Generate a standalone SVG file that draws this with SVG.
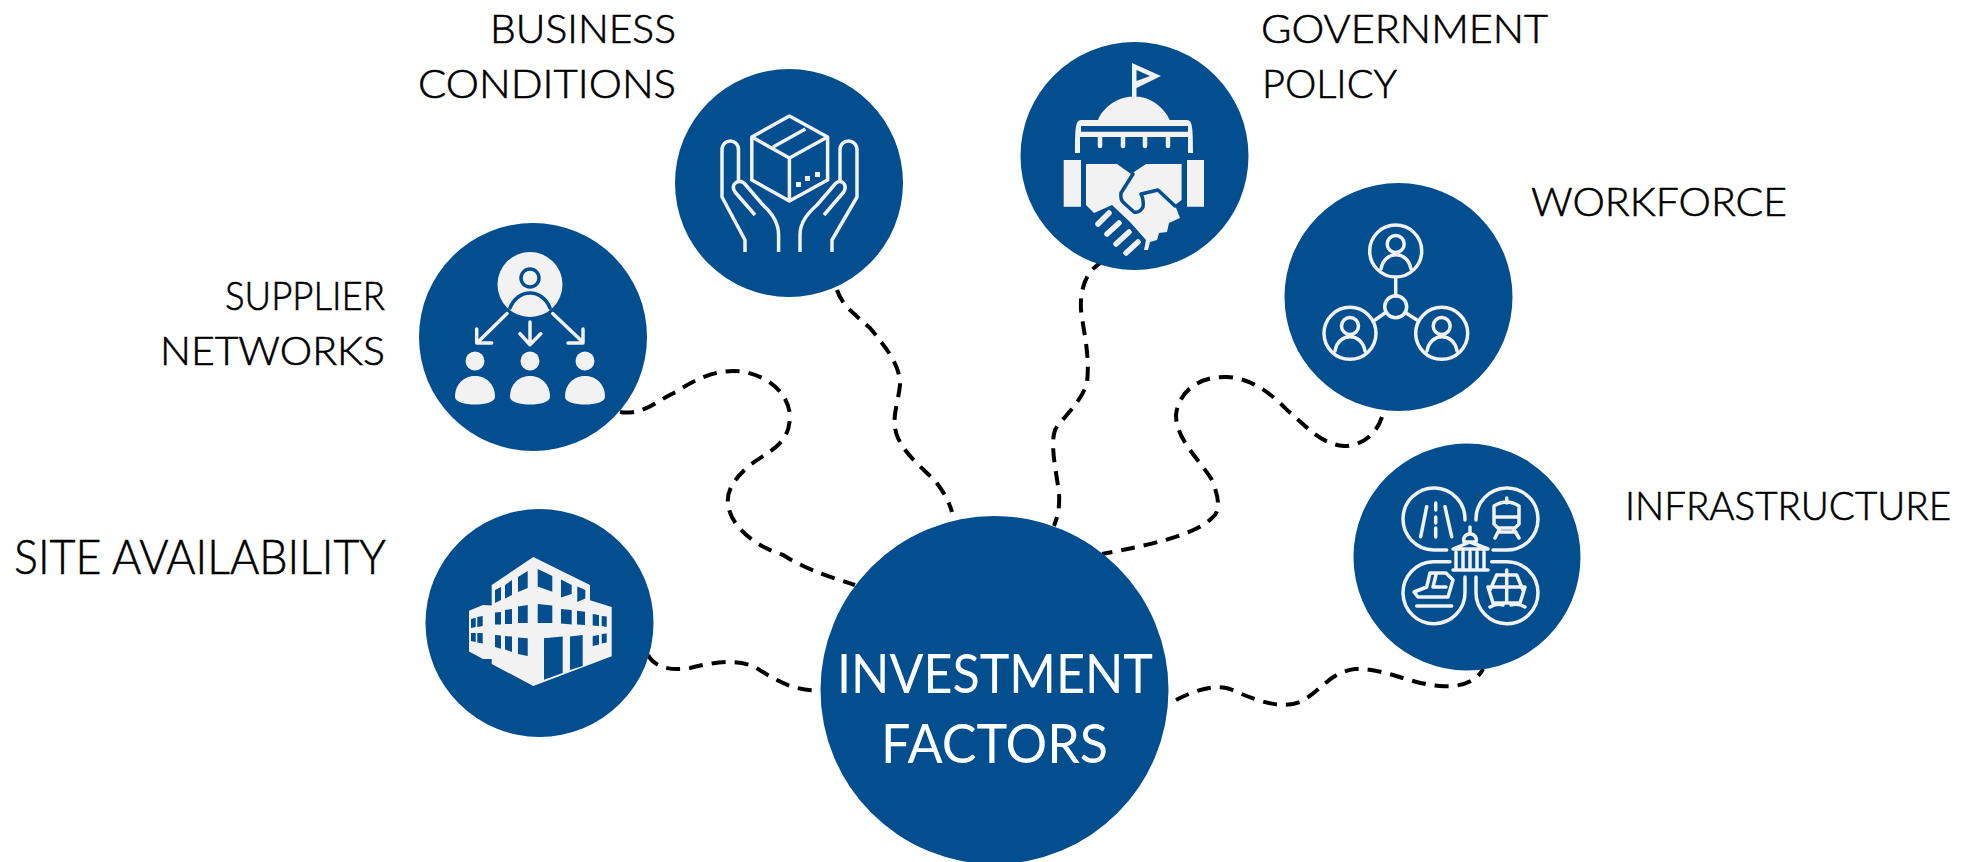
<svg xmlns="http://www.w3.org/2000/svg" width="1962" height="862" viewBox="0 0 1962 862">
<style>
.n{fill:#034e8f}
.c{fill:none;stroke:#000;stroke-width:4;stroke-dasharray:14 9;stroke-linejoin:round}
.l{font-family:"Lato","Liberation Sans",sans-serif;font-weight:300;font-size:40px;fill:#000;stroke:#000;stroke-width:.6px}
.w{fill:#fff;stroke:none;font-weight:400;font-size:55px}
.i{fill:none;stroke:#f2f2f2;stroke-width:3.500;stroke-linecap:round;stroke-linejoin:round}
.f{fill:#f2f2f2}
.b{fill:none;stroke:#034e8f;stroke-width:3.500;stroke-linejoin:round;stroke-linecap:round}
</style>
<rect width="1962" height="862" fill="#fff"/>
<g id="connectors">
<path class="c" d="M620 412C645 416 660 398 676 392C700 376 722 368 745 372C772 378 788 395 790 415C790 445 770 450 750 465C735 478 726 490 728 505C732 530 760 548 783 555C810 572 835 578 855 585"/>
<path class="c" d="M837 290C842 305 852 312 870 328C888 350 900 365 900 385C898 405 890 420 898 438C906 456 925 470 936 482C946 495 950 505 952 512"/>
<path class="c" d="M1104 261C1085 270 1080 290 1081 310C1084 335 1090 355 1087 383C1080 405 1060 420 1055 430C1050 445 1056 470 1059 493C1060 510 1057 518 1054 526"/>
<path class="c" d="M1382 417C1375 438 1358 446 1344 446C1320 444 1305 425 1287 410C1270 392 1250 378 1227 377C1195 376 1178 395 1176 415C1176 440 1200 460 1212 480C1220 500 1220 512 1212 518C1195 535 1150 545 1102 554"/>
<path class="c" d="M648 655C655 668 672 671 690 668C710 663 735 658 755 667C775 680 795 692 820 690"/>
<path class="c" d="M1176 700C1195 690 1215 684 1230 689C1255 700 1280 710 1300 702C1320 692 1330 672 1355 669C1385 668 1410 684 1440 686C1462 688 1478 680 1483 669"/>
</g>
<g id="site"><circle class="n" cx="539.500" cy="623" r="114"/>
<path class="f" d="M533.300 557L590 585V600.300L611.700 607V656.300L533.300 686L491.700 664V659H483L469 651.500V610.700L483 605L491.700 605.500V585Z"/>
<path class="n" d="M495 590L501 587V600L495 603ZM505 585L512 580V595L505 598.600ZM518 577L527.700 571V588L518 592ZM537.700 569L552.300 576V591.700L537.700 586.600ZM561 579.600L571.700 585V594L561 597.600V579.600ZM577.300 586.500L585.300 590V598.600L577.300 602Z"/>
<path class="n" d="M495 612.500L501 612V624.500H495ZM505 610L512 609V624H505ZM518 606.500L527.700 605V623H518ZM537.700 604L552.300 605.500V623H537.700ZM561 609L571.700 610V624.500L561 623.500ZM577 610.700L585 611.700V625L577 624.500ZM592.700 614L599 615V626L592.700 625.500ZM601.700 616L606.700 616.500V627L601.700 626Z"/>
<path class="n" d="M495 635L501 635.500V648.700L495 647ZM505 636L512 636.600V652L505 649.400ZM518 637.600L527.700 638.300V656L518 654ZM544 638.300L562.700 636.600V673L544 679.800ZM570 636.600L582.700 635V666L570 670ZM592.700 636L599 635V644.600L592.700 646ZM601.700 634L606.700 633.500V642.500L601.700 643.500Z"/>
<path class="n" d="M471 619L475.700 617.700V627L471 628ZM477.300 617L482.700 616V626L477.300 627ZM471 633L475.700 633V642L471 641ZM477.300 633L482.700 633V643.500L477.300 642.500Z"/></g>
<g id="supplier"><circle class="n" cx="533" cy="337" r="114"/>
<circle class="f" cx="530" cy="284.500" r="32.500"/>
<circle cx="530" cy="278" r="9" class="b"/>
<path class="b" d="M510 308C518 288 542 288 550 308"/>
<path class="i" d="M507 313.600L478 342M476.700 329V343H491.700M530 322V344.700M520 333.700L530 344.700L540.700 333.700M552.700 313.600L582.700 342M583 329V343H568"/>
<circle class="f" cx="475" cy="361" r="9.500"/><circle class="f" cx="530" cy="361" r="9.500"/><circle class="f" cx="585" cy="361" r="9.500"/>
<path class="f" d="M455 397C455 369 495 369 495 397C495 407 455 407 455 397Z"/>
<path class="f" d="M510 397C510 369 550 369 550 397C550 407 510 407 510 397Z"/>
<path class="f" d="M565 397C565 369 605 369 605 397C605 407 565 407 565 397Z"/></g>
<g id="business"><circle class="n" cx="789" cy="183" r="114"/>
<path class="i" style="stroke-linecap:butt" d="M789.400 116L751.800 137V180L789.400 201L827.600 180V137ZM751.800 137L789.400 158L827.600 137M789.400 158V201M773 147L805.400 129"/>
<path class="i" style="stroke-linecap:butt" d="M738.500 182V150C738.500 138 722 138 722 150V197L745 240V252M744 183L763 205C772 213 778.600 222 778.600 235V252M755 215L735 192C730 184 738 179 744 183"/>
<path class="i" style="stroke-linecap:butt" d="M840 182V150C840 138 857 138 857 150V197L832 240V252M836 183L817 205C808 213 800 222 800 235V252M824 215L843.700 192C848 184 841 179 836 183"/>
<path class="f" d="M796 182h5v5h-5zM805 176h5v5h-5zM815 172h5v5h-5z"/></g>
<g id="government"><circle class="n" cx="1134.500" cy="156" r="114"/>
<path class="f" fill-rule="evenodd" d="M1132 63L1161 76L1136.500 88V96.700C1150 96.700 1164 107 1169.800 120H1186C1192 120 1193 124 1193 153H1188V137H1080V153H1075C1075 124 1076 120 1082 120H1098C1103 107 1118 96.700 1132 96.700ZM1136.500 70V81L1150 76ZM1081 126V131.700H1188V126Z"/>
<path class="i" style="stroke-width:4.500" d="M1100 137V146M1123 137V146M1145 137V146M1168 137V146"/>
<path class="f" d="M1063.700 160H1081V206.700H1063.700ZM1187 160H1204V206.700H1187Z"/>
<path class="f" d="M1086 164H1117L1131 174L1146 164H1181.600V200L1175 205L1180 218L1169 223L1167 232L1159 233L1157 240L1150 242L1148 250H1144L1146 240L1130 222L1112 205L1094 213L1086 205Z"/>
<path class="b" d="M1133 174L1121 193Q1120 200 1124 203L1134 212Q1140 213 1143 207Q1144 200 1141 194L1158 190L1175 206"/>
<path class="i" style="stroke-width:5.500" d="M1098 224L1109 213M1107 234L1119 223M1116 244L1129 232M1126 253L1138 242"/>
</g>
<g id="workforce"><circle class="n" cx="1398.500" cy="297" r="114"/>
<g class="i"><circle cx="1395.700" cy="251" r="26"/><circle cx="1395.700" cy="244" r="8.500"/><path d="M1381 269C1384 250 1408 250 1411 269"/>
<circle cx="1350" cy="333.300" r="26"/><circle cx="1350" cy="326" r="8.500"/><path d="M1335 351C1338 332 1362 332 1365 351"/>
<circle cx="1441.700" cy="333.300" r="26"/><circle cx="1441.700" cy="326" r="8.500"/><path d="M1427 351C1430 332 1454 332 1457 351"/>
<circle cx="1395.700" cy="306.700" r="11"/><path d="M1395.700 278V296M1385 313L1375 320M1406 313L1417 320"/></g></g>
<g id="infrastructure"><circle class="n" cx="1467" cy="557" r="113.500"/>
<g class="i"><path d="M1446.700 550H1433.500A31 31 0 1 1 1465 520M1476 520A31 31 0 1 1 1506.700 550H1493M1450 561.700H1433A31 31 0 1 0 1465 592V577M1476 577V592A31 31 0 1 0 1506.700 561.700H1491.700"/>
<path d="M1426.700 506.700L1420.700 536.700M1445 506.700L1451.700 536.700M1435.700 503V510M1435.700 517V523M1435.700 528V537"/>
<path d="M1506.700 498V503M1494 506Q1506.700 498 1519 506V524L1515 528H1498L1494 524ZM1494 517H1519M1500 528L1495 538M1513 528L1519 538M1498 532H1516"/>
<path d="M1430 573H1446L1453 580L1448 597H1418L1414 592L1426.700 587ZM1436 575L1433 587H1446M1416.700 606H1451.700"/>
<path d="M1506.700 570V603M1496.700 575H1516.700L1523 590M1496.700 575L1490 590M1488 587H1525L1520 603H1493ZM1490 607Q1497 603 1503 605M1525 607Q1518 603 1511 605"/>
<path d="M1470 527V533M1470 534A6 6 0 0 1 1476 542H1464A6 6 0 0 1 1470 534ZM1453 549L1470 542L1488 549ZM1456 552V568M1463 552V568M1470 552V568M1477 552V568M1484 552V568M1453 570H1488"/></g></g>
<g id="center"><circle class="n" cx="994.500" cy="690" r="174"/>
<text class="l w" x="837" y="692.500" textLength="316" lengthAdjust="spacingAndGlyphs">INVESTMENT</text>
<text class="l w" x="881" y="762.500" textLength="227" lengthAdjust="spacingAndGlyphs">FACTORS</text></g>
<g id="labels">
<text class="l" x="490" y="43" textLength="186" lengthAdjust="spacingAndGlyphs">BUSINESS</text>
<text class="l" x="418" y="98" textLength="258" lengthAdjust="spacingAndGlyphs">CONDITIONS</text>
<text class="l" x="1261" y="43" textLength="287" lengthAdjust="spacingAndGlyphs">GOVERNMENT</text>
<text class="l" x="1262" y="98" textLength="135" lengthAdjust="spacingAndGlyphs">POLICY</text>
<text class="l" x="1531" y="216" textLength="256" lengthAdjust="spacingAndGlyphs">WORKFORCE</text>
<text class="l" x="225" y="310" textLength="160" lengthAdjust="spacingAndGlyphs">SUPPLIER</text>
<text class="l" x="160" y="365" textLength="225" lengthAdjust="spacingAndGlyphs">NETWORKS</text>
<text class="l" x="1625" y="520" textLength="326" lengthAdjust="spacingAndGlyphs">INFRASTRUCTURE</text>
<text class="l" x="14" y="574" textLength="372" lengthAdjust="spacingAndGlyphs" style="font-size:48px">SITE AVAILABILITY</text>
</g>
</svg>
